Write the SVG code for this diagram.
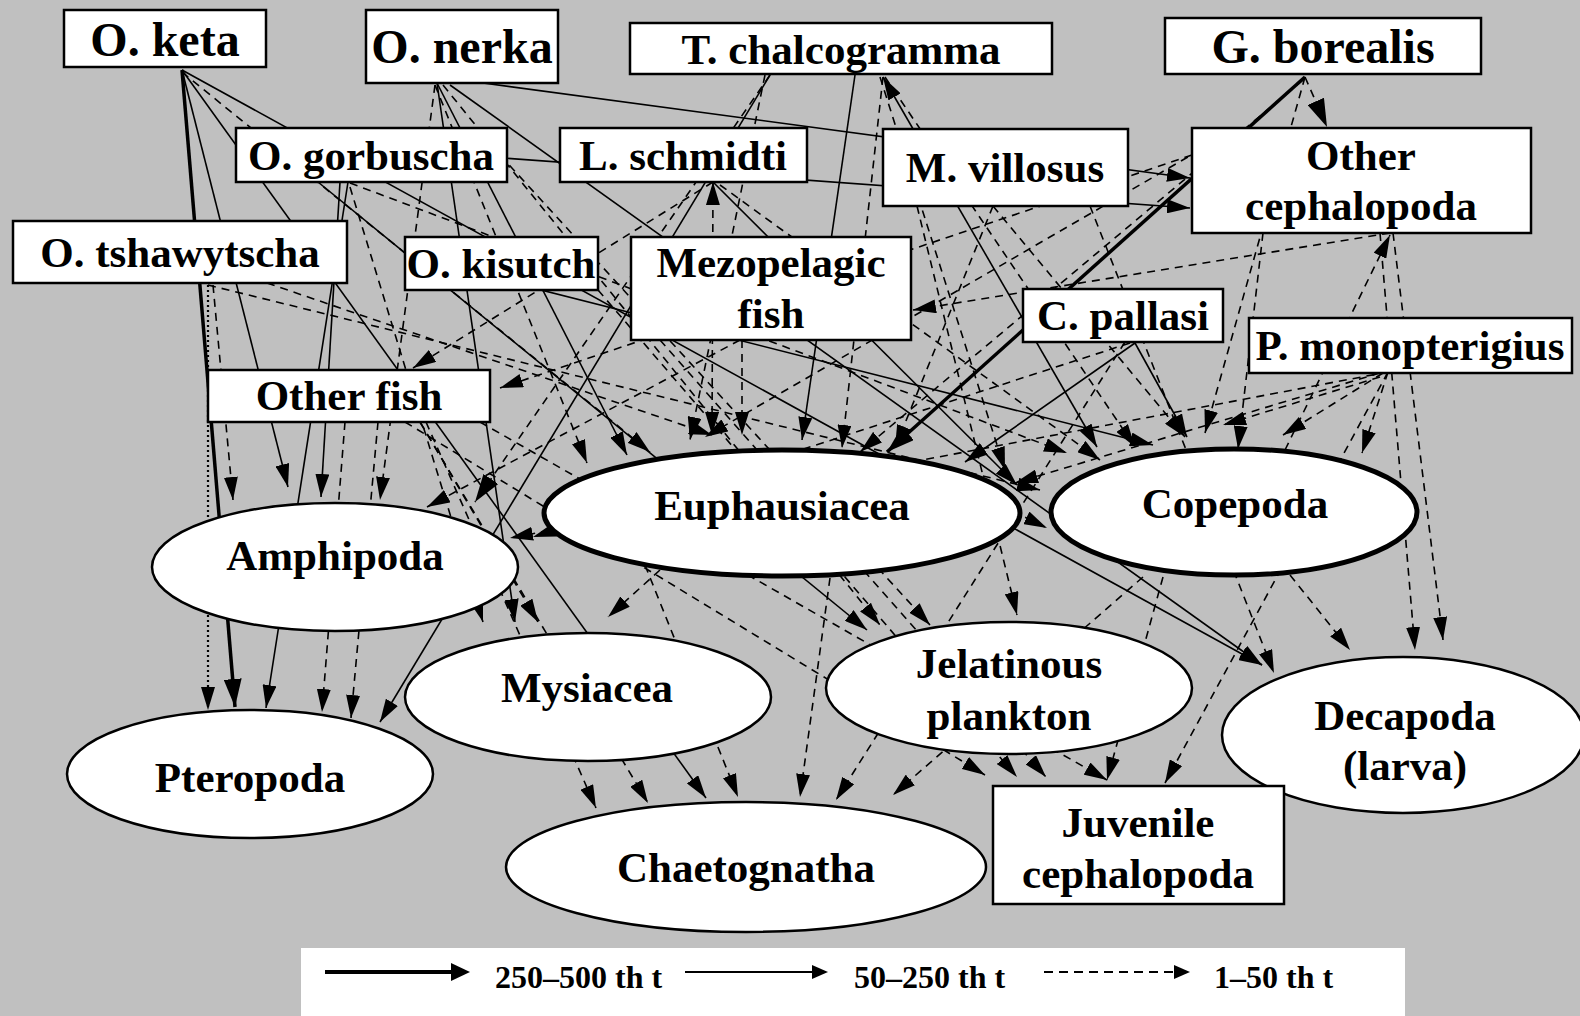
<svg xmlns="http://www.w3.org/2000/svg" width="1580" height="1016" viewBox="0 0 1580 1016">
<defs>
<style>
.bg{fill:#c0c0c0}
.box{fill:#fff;stroke:#000;stroke-width:2.5}
.ell{fill:#fff;stroke:#000;stroke-width:2.5}
.ell.b{stroke-width:5}
text{font-family:"Liberation Serif","Times New Roman",serif;font-weight:bold;fill:#000;text-anchor:middle}
.l{font-size:43px}
.xl{font-size:48px}
.lg{font-size:32px;text-anchor:start}
#edges path,#legend path{fill:none;stroke:#000}
#legend polygon{fill:#000;stroke:none}
.s{stroke-width:1.6;marker-end:url(#a)}
.t{stroke-width:3.5;marker-end:url(#ab)}
.d{stroke-width:1.6;stroke-dasharray:8 6;marker-end:url(#a)}
.o{stroke-width:2.2;stroke-dasharray:2 3;marker-end:url(#a)}
.both{marker-start:url(#a)}
.big{marker-end:url(#ab)}
</style>
<marker id="a" viewBox="0 0 23 14" refX="23" refY="7" markerWidth="23" markerHeight="14" markerUnits="userSpaceOnUse" orient="auto-start-reverse"><path d="M0,0L23,7L0,14z"/></marker>
<marker id="ab" viewBox="0 0 28 18" refX="28" refY="9" markerWidth="28" markerHeight="18" markerUnits="userSpaceOnUse" orient="auto"><path d="M0,0L28,9L0,18z"/></marker>
</defs>
<rect class="bg" x="0" y="0" width="1580" height="1016"/>
<g id="edges">
<path class="t" d="M182,70L235,707"/>
<path class="t" d="M1305,77L887,452"/>
<path class="o" d="M208,285L208,710"/>
<path class="s" d="M182,70L288,487"/>
<path class="s" d="M182,70L706,798"/>
<path class="s" d="M182,70L1262,665"/>
<path class="s" d="M483,83L1190,178"/>
<path class="s" d="M503,158L1190,208"/>
<path class="s" d="M348,182L266,708"/>
<path class="s" d="M340,182L321,497"/>
<path class="s" d="M437,83L515,622"/>
<path class="s" d="M450,85L1262,665"/>
<path class="s" d="M437,83L627,455"/>
<path class="s" d="M855,75L802,440"/>
<path class="s" d="M770,75L380,722"/>
<path class="s both" d="M1097,447L883,77"/>
<path class="s" d="M1135,343L1187,437"/>
<path class="s" d="M1135,343L965,462"/>
<path class="s" d="M470,272L1153,445"/>
<path class="s" d="M318,182L867,630"/>
<path class="s" d="M713,182L1017,485"/>
<path class="d" d="M182,72L650,452"/>
<path class="d" d="M213,285L233,500"/>
<path class="d" d="M267,283L712,435"/>
<path class="d" d="M208,285L1040,490"/>
<path class="d" d="M435,85L380,500"/>
<path class="d" d="M435,85L587,463"/>
<path class="d" d="M443,85L880,625"/>
<path class="d" d="M350,183L1067,453"/>
<path class="d" d="M350,187L483,622"/>
<path class="d" d="M500,155L930,625"/>
<path class="d big" d="M770,75L475,502"/>
<path class="d" d="M765,75L690,440"/>
<path class="d" d="M883,77L842,448"/>
<path class="d" d="M885,77L1135,447"/>
<path class="d" d="M880,77L1005,470"/>
<path class="d both" d="M713,182L712,435"/>
<path class="d" d="M720,185L1100,460"/>
<path class="d" d="M713,182L413,368"/>
<path class="d" d="M993,206L1185,437"/>
<path class="d" d="M993,206L895,448"/>
<path class="d" d="M917,206L1017,615"/>
<path class="d" d="M1090,206L1274,673"/>
<path class="d big" d="M1305,77L1327,127"/>
<path class="d" d="M1305,77L1205,433"/>
<path class="d" d="M1303,80L860,452"/>
<path class="d" d="M1192,155L500,388"/>
<path class="d" d="M1390,233L913,310"/>
<path class="d" d="M1200,150L705,437"/>
<path class="d" d="M1263,233L1238,449"/>
<path class="d" d="M1380,233L1415,650"/>
<path class="d" d="M1393,233L1443,640"/>
<path class="d" d="M1285,450L1390,235"/>
<path class="d" d="M742,340L742,435"/>
<path class="d" d="M740,340L427,507"/>
<path class="d" d="M660,340L1046,777"/>
<path class="d" d="M1130,343L533,537"/>
<path class="d" d="M1125,342L836,800"/>
<path class="d" d="M1388,372L1362,453"/>
<path class="d" d="M1383,373L1283,435"/>
<path class="d" d="M1380,377L1223,425"/>
<path class="d" d="M1380,373L1015,483"/>
<path class="d" d="M1388,372L510,538"/>
<path class="d" d="M1388,372L1165,783"/>
<path class="d" d="M1290,575L1350,650"/>
<path class="d" d="M1163,577L1107,780"/>
<path class="d" d="M1143,577L893,795"/>
<path class="d" d="M660,570L608,617"/>
<path class="d" d="M830,578L800,797"/>
<path class="d" d="M645,565L738,797"/>
<path class="d" d="M1000,505L1047,528"/>
<path class="d" d="M345,422L322,712"/>
<path class="d" d="M378,422L351,718"/>
<path class="d" d="M420,422L538,622"/>
<path class="d" d="M426,422L596,808"/>
<path class="d" d="M420,422L648,803"/>
<path class="d" d="M405,422L985,775"/>
<path class="d" d="M480,422L1107,780"/>
<path class="d" d="M598,290L1017,777"/>
</g>
<g id="n-oketa"><rect class="box" x="64" y="10" width="202" height="57"/><text class="xl" x="165" y="56">O. keta</text></g>
<g id="n-onerka"><rect class="box" x="366" y="10" width="192" height="73"/><text class="xl" x="462" y="63">O. nerka</text></g>
<g id="n-tchal"><rect class="box" x="630" y="23" width="422" height="51"/><text class="l" x="841" y="64">T. chalcogramma</text></g>
<g id="n-gbor"><rect class="box" x="1165" y="18" width="316" height="56"/><text class="xl" x="1323" y="63">G. borealis</text></g>
<g id="n-ogorb"><rect class="box" x="236" y="128" width="271" height="54"/><text class="l" x="371" y="170">O. gorbuscha</text></g>
<g id="n-lschm"><rect class="box" x="560" y="128" width="247" height="54"/><text class="l" x="683" y="170">L. schmidti</text></g>
<g id="n-mvil"><rect class="box" x="883" y="129" width="245" height="77"/><text class="l" x="1005" y="182">M. villosus</text></g>
<g id="n-oceph"><rect class="box" x="1192" y="128" width="339" height="105"/><text class="l" x="1361" y="170">Other</text><text class="l" x="1361" y="220">cephalopoda</text></g>
<g id="n-otsha"><rect class="box" x="13" y="221" width="334" height="62"/><text class="l" x="180" y="267">O. tshawytscha</text></g>
<g id="n-okis"><rect class="box" x="405" y="237" width="193" height="53"/><text class="l" x="501" y="278">O. kisutch</text></g>
<g id="n-mezo"><rect class="box" x="631" y="237" width="280" height="103"/><text class="l" x="771" y="277">Mezopelagic</text><text class="l" x="771" y="328">fish</text></g>
<g id="n-cpal"><rect class="box" x="1023" y="289" width="200" height="53"/><text class="l" x="1123" y="330">C. pallasi</text></g>
<g id="n-pmono"><rect class="box" x="1249" y="318" width="323" height="55"/><text class="l" x="1410" y="360">P. monopterigius</text></g>
<g id="n-ofish"><rect class="box" x="208" y="370" width="282" height="52"/><text class="l" x="349" y="410">Other fish</text></g>
<g id="n-amph"><ellipse class="ell" cx="335" cy="567" rx="183" ry="64"/><text class="l" x="335" y="570">Amphipoda</text></g>
<g id="n-euph"><ellipse class="ell b" cx="782" cy="513" rx="238" ry="63"/><text class="l" x="782" y="520">Euphausiacea</text></g>
<g id="n-cope"><ellipse class="ell b" cx="1234" cy="512" rx="183" ry="63"/><text class="l" x="1235" y="518">Copepoda</text></g>
<g id="n-mysi"><ellipse class="ell" cx="588" cy="697" rx="183" ry="64"/><text class="l" x="587" y="702">Mysiacea</text></g>
<g id="n-jelat"><ellipse class="ell" cx="1009" cy="688" rx="183" ry="66"/><text class="l" x="1009" y="678">Jelatinous</text><text class="l" x="1009" y="730">plankton</text></g>
<g id="n-decap"><ellipse class="ell" cx="1403" cy="735" rx="181" ry="78"/><text class="l" x="1405" y="730">Decapoda</text><text class="l" x="1405" y="780">(larva)</text></g>
<g id="n-pter"><ellipse class="ell" cx="250" cy="774" rx="183" ry="64"/><text class="l" x="250" y="792">Pteropoda</text></g>
<g id="n-chaet"><ellipse class="ell" cx="746" cy="867" rx="240" ry="65"/><text class="l" x="746" y="882">Chaetognatha</text></g>
<g id="n-juv"><rect class="box" x="993" y="786" width="291" height="118"/><text class="l" x="1138" y="837">Juvenile</text><text class="l" x="1138" y="888">cephalopoda</text></g>
<g id="legend">
<rect x="301" y="948" width="1104" height="68" fill="#fff"/>
<path d="M325,972L455,972" stroke-width="4"/><polygon points="451,963 470,972 451,981"/>
<text class="lg" x="495" y="988">250–500 th t</text>
<path d="M685,972L815,972" stroke-width="2"/><polygon points="812,965 828,972 812,979"/>
<text class="lg" x="854" y="988">50–250 th t</text>
<path d="M1044,972L1176,972" stroke-width="2" stroke-dasharray="9 6"/><polygon points="1174,965 1190,972 1174,979"/>
<text class="lg" x="1214" y="988">1–50 th t</text>
</g>
</svg>
